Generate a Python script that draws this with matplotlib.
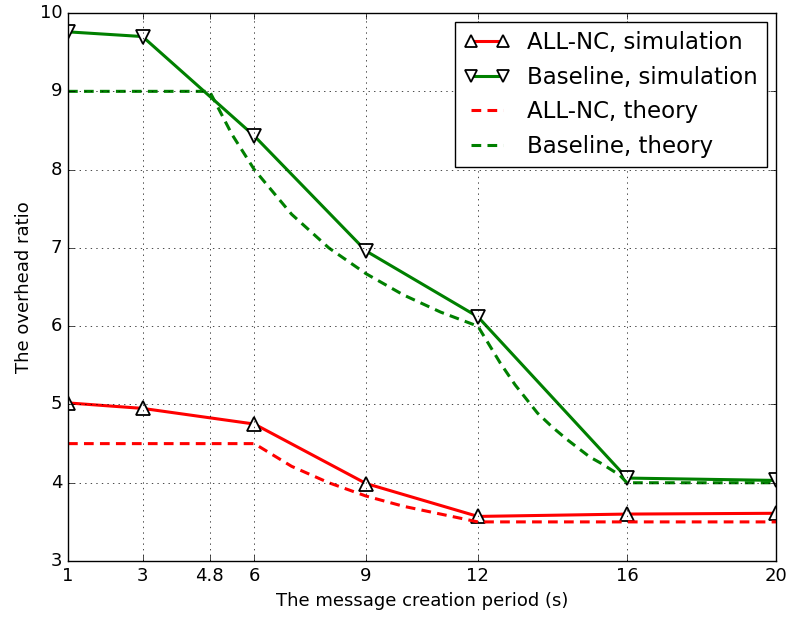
import numpy as np
import matplotlib.pyplot as plt

plt.style.use('classic')

# Message creation period (s)
period = [1, 3, 6, 9, 12, 16, 20]
allnc_sim = [5.02, 4.95, 4.75, 3.99, 3.57, 3.60, 3.61]
baseline_sim = [9.76, 9.70, 8.43, 6.96, 6.12, 4.06, 4.03]

# Theoretical curves, sampled more densely where they bend
allnc_th_x = [1, 6, 7, 8, 9, 10, 11, 12, 20]
allnc_th_y = [4.5, 4.5, 4.21, 4.0, 3.83, 3.70, 3.60, 3.5, 3.5]
baseline_th_x = [1, 4.8, 5.4, 6, 7, 8, 9, 10, 11, 12, 12.6, 13, 13.6, 14, 14.4, 15, 15.3, 15.8, 16, 20]
baseline_th_y = [9, 9, 8.45, 8.0, 7.43, 7.0, 6.67, 6.4, 6.18, 6.0, 5.53, 5.25, 4.89, 4.71,
                 4.55, 4.33, 4.25, 4.1, 4.0, 4.0]

xticks = [1, 3, 4.8, 6, 9, 12, 16, 20]
xticklabels = ['1', '3', '4.8', '6', '9', '12', '16', '20']

fig = plt.figure(figsize=(7.89, 6.22), dpi=100, facecolor='white')
ax = fig.add_axes([0.0862, 0.098, 0.8973, 0.881])

mk = dict(markersize=9.5, markerfacecolor='white', markeredgecolor='black', markeredgewidth=1.3)
ax.plot(period, allnc_sim, '-', color='red', lw=2.2, marker='^', label='ALL-NC, simulation', **mk)
ax.plot(period, baseline_sim, '-', color='green', lw=2.2, marker='v', label='Baseline, simulation', **mk)
ax.plot(allnc_th_x, allnc_th_y, '--', color='red', lw=2.2, dashes=(7, 4.5), label='ALL-NC, theory')
ax.plot(baseline_th_x, baseline_th_y, '--', color='green', lw=2.2, dashes=(7, 4.5), label='Baseline, theory')

ax.set_xlim(1, 20)
ax.set_ylim(3, 10)
ax.set_xticks(xticks)
ax.set_xticklabels(xticklabels)
ax.tick_params(labelsize=13)
ax.set_xlabel('The message creation period (s)', fontsize=13)
ax.set_ylabel('The overhead ratio', fontsize=13)
ax.grid(True)

ax.legend(loc='upper right', fontsize=16.5, numpoints=2, markerscale=0.85, handlelength=2.0,
          handletextpad=0.75, borderaxespad=0.4, labelspacing=0.5)

fig.savefig('out.png', dpi=100, facecolor='white')
